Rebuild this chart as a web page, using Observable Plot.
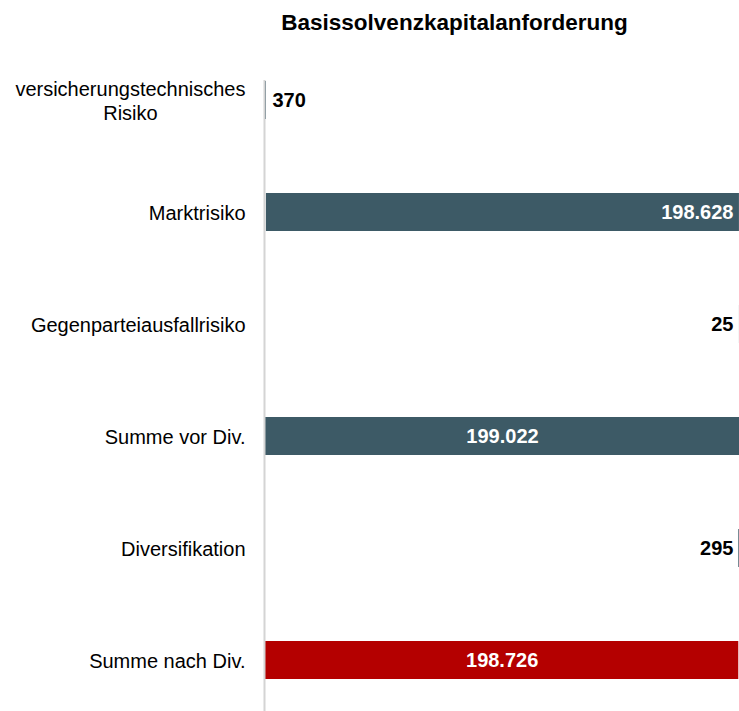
<!DOCTYPE html>
<html>
<head>
<meta charset="utf-8">
<script src="https://cdn.jsdelivr.net/npm/d3@7"></script>
<script src="https://cdn.jsdelivr.net/npm/@observablehq/plot@0.6"></script>
<style>
  body { margin: 0; background: #fff; font-family: "Liberation Sans", Arial, sans-serif; }
  #wrap { position: relative; width: 739px; }
  #title { height: 50px; box-sizing: border-box; padding-top: 11px; padding-left: 170px; text-align: center;
           font-size: 22.5px; font-weight: bold; line-height: 24px; color: #000; }
</style>
</head>
<body>
<div id="wrap">
  <div id="title">Basissolvenzkapitalanforderung</div>
  <div id="chart"></div>
</div>
<script>
const categories = ["versicherungstechnisches\nRisiko", "Marktrisiko", "Gegenparteiausfallrisiko", "Summe vor Div.", "Diversifikation", "Summe nach Div."];
const values = [370, 198628, 25, 199022, -295, 198726];
const kinds = ["delta", "delta", "delta", "total", "delta", "total"];
const colors = ["#3d5a66", "#3d5a66", "#3d5a66", "#3d5a66", "#3d5a66", "#b40000"];

const de = d3.formatLocale({decimal: ",", thousands: ".", grouping: [3], currency: ["", "€"]});
const fmt = de.format(",d");

let run = 0;
const rows = categories.map((c, i) => {
  let x1, x2;
  if (kinds[i] === "total") { x1 = 0; x2 = values[i]; run = values[i]; }
  else { x1 = run; x2 = run + values[i]; run = x2; }
  return {cat: c, x1, x2, v: values[i], kind: kinds[i], color: colors[i]};
});
const xMax = d3.max(rows, d => Math.max(d.x1, d.x2));
const big = d => Math.abs(d.v) > xMax * 0.2;

const common = {y: "cat", fontSize: 20, fontWeight: "bold", fontFamily: "Liberation Sans, Arial, sans-serif"};

const chart = Plot.plot({
  width: 739,
  height: 661,
  marginLeft: 265,
  marginRight: 0,
  marginTop: 30,
  marginBottom: 0,
  style: {fontFamily: "Liberation Sans, Arial, sans-serif", background: "#fff"},
  x: {domain: [0, xMax], axis: null},
  y: {domain: categories, range: [31, 630], paddingInner: 0.66, paddingOuter: 0, label: null},
  marks: [
    Plot.barX(rows, {y: "cat", x1: "x1", x2: "x2", fill: d => d.color, insetLeft: 0, insetRight: 0}),
    Plot.ruleX([0], {stroke: "#d4d4d4", strokeWidth: 2, dx: -1}),
    Plot.axisY({tickSize: 0, tickPadding: 20, fontSize: 20, lineHeight: 1.2, fill: "#000", fontWeight: "normal", label: null}),
    Plot.text(rows.filter(d => !big(d) && Math.max(d.x1, d.x2) < xMax * 0.5), {
      ...common, x: d => Math.max(d.x1, d.x2), text: d => fmt(Math.abs(d.v)), textAnchor: "start", dx: 6, fill: "#000"}),
    Plot.text(rows.filter(d => !big(d) && Math.max(d.x1, d.x2) >= xMax * 0.5), {
      ...common, x: d => Math.max(d.x1, d.x2), text: d => fmt(Math.abs(d.v)), textAnchor: "end", dx: -6, fill: "#000"}),
    Plot.text(rows.filter(d => big(d) && d.kind === "delta"), {
      ...common, x: d => Math.max(d.x1, d.x2), text: d => fmt(Math.abs(d.v)), textAnchor: "end", dx: -6, fill: "#fff"}),
    Plot.text(rows.filter(d => d.kind === "total"), {
      ...common, x: d => (d.x1 + d.x2) / 2, text: d => fmt(Math.abs(d.v)), textAnchor: "middle", fill: "#fff"})
  ]
});
document.getElementById("chart").appendChild(chart);

// center-align multi-line tick labels (right edge kept at the tick padding)
chart.querySelectorAll('g[aria-label="y-axis tick label"] text').forEach(t => {
  if (t.querySelectorAll("tspan").length > 1) {
    const w = t.getBBox().width;
    t.setAttribute("text-anchor", "middle");
    const tr = t.getAttribute("transform") || "";
    t.setAttribute("transform", tr + ` translate(${-w / 2},0)`);
  }
});
</script>
</body>
</html>
